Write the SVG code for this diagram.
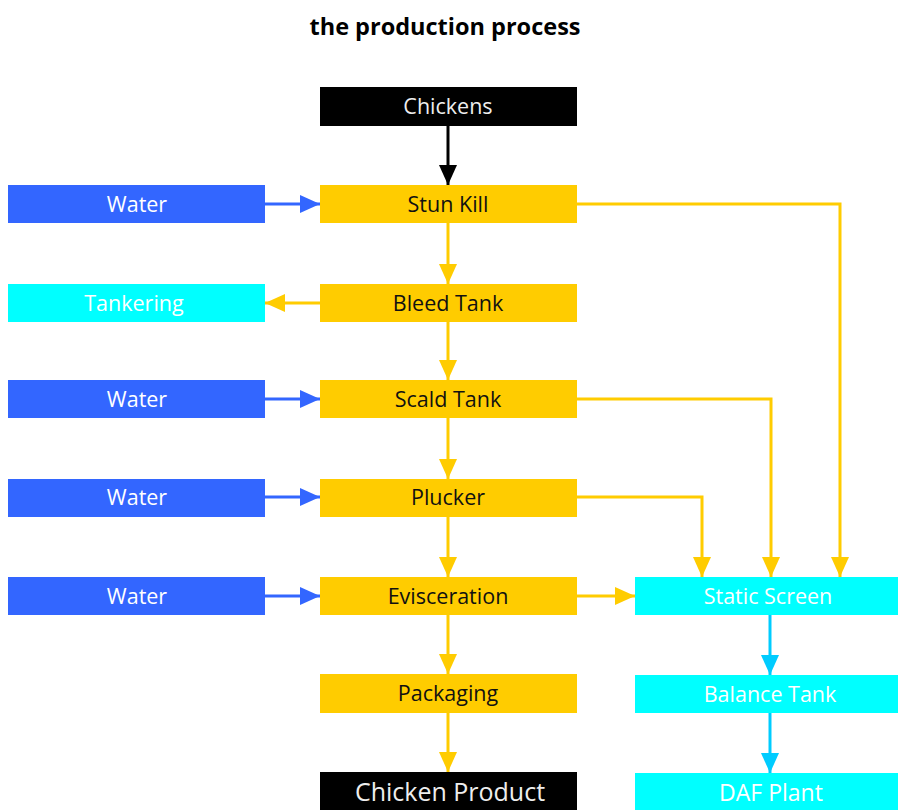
<svg xmlns="http://www.w3.org/2000/svg" width="898" height="810" viewBox="0 0 898 810">
<style>
text{font-family:"Open Sans","Noto Sans","Liberation Sans",sans-serif;text-anchor:middle;dominant-baseline:central;font-size:21.5px}
.title{font-weight:bold;font-size:23.5px;fill:#000}
.blk rect{fill:#000}.blk text{fill:#eee}
.blu rect{fill:#3366ff}.blu text{fill:#fff}
.yel rect{fill:#ffcc00}.yel text{fill:#111}
.cya rect{fill:#00ffff}.cya text{fill:#fff}
.c{fill:none;stroke-width:3}
.y{stroke:#ffcc00}.b{stroke:#3366ff}.k{stroke:#000}.s{stroke:#00ccff}
</style>
<defs>
<marker id="ay" markerUnits="userSpaceOnUse" markerWidth="20" markerHeight="20" viewBox="0 0 20 20" refX="20" refY="10" orient="auto"><path d="M0,1 L20,10 L0,19Z" fill="#ffcc00"/></marker>
<marker id="ab" markerUnits="userSpaceOnUse" markerWidth="20" markerHeight="20" viewBox="0 0 20 20" refX="20" refY="10" orient="auto"><path d="M0,1 L20,10 L0,19Z" fill="#3366ff"/></marker>
<marker id="ak" markerUnits="userSpaceOnUse" markerWidth="20" markerHeight="20" viewBox="0 0 20 20" refX="20" refY="10" orient="auto"><path d="M0,1 L20,10 L0,19Z" fill="#000"/></marker>
<marker id="as" markerUnits="userSpaceOnUse" markerWidth="20" markerHeight="20" viewBox="0 0 20 20" refX="20" refY="10" orient="auto"><path d="M0,1 L20,10 L0,19Z" fill="#00ccff"/></marker>
</defs>
<text class="title" x="445" y="26">the production process</text>
<g id="connectors">
<path class="c k" d="M448,126 V185" marker-end="url(#ak)"/>
<path class="c b" d="M265,204 H320" marker-end="url(#ab)"/>
<path class="c y" d="M448,223 V284" marker-end="url(#ay)"/>
<path class="c y" d="M320,303 H265" marker-end="url(#ay)"/>
<path class="c y" d="M448,322 V380" marker-end="url(#ay)"/>
<path class="c b" d="M265,399 H320" marker-end="url(#ab)"/>
<path class="c y" d="M448,418 V479" marker-end="url(#ay)"/>
<path class="c b" d="M265,497 H320" marker-end="url(#ab)"/>
<path class="c y" d="M448,517 V577" marker-end="url(#ay)"/>
<path class="c b" d="M265,596 H320" marker-end="url(#ab)"/>
<path class="c y" d="M448,615 V674" marker-end="url(#ay)"/>
<path class="c y" d="M448,713 V772" marker-end="url(#ay)"/>
<path class="c y" d="M577,204 H840 V577" marker-end="url(#ay)"/>
<path class="c y" d="M577,399 H771 V577" marker-end="url(#ay)"/>
<path class="c y" d="M577,497 H702 V577" marker-end="url(#ay)"/>
<path class="c y" d="M577,596 H635" marker-end="url(#ay)"/>
<path class="c s" d="M770,615 V675" marker-end="url(#as)"/>
<path class="c s" d="M770,713 V773" marker-end="url(#as)"/>
</g>
<g id="chickens" class="blk"><rect x="320" y="87" width="257" height="39"/><text x="448" y="105">Chickens</text></g>
<g id="water1" class="blu"><rect x="8" y="185" width="257" height="38"/><text x="137" y="203">Water</text></g>
<g id="stunkill" class="yel"><rect x="320" y="185" width="257" height="38"/><text x="448" y="203">Stun Kill</text></g>
<g id="tankering" class="cya"><rect x="8" y="284" width="257" height="38"/><text x="134" y="302">Tankering</text></g>
<g id="bleedtank" class="yel"><rect x="320" y="284" width="257" height="38"/><text x="448" y="302">Bleed Tank</text></g>
<g id="water2" class="blu"><rect x="8" y="380" width="257" height="38"/><text x="137" y="398">Water</text></g>
<g id="scaldtank" class="yel"><rect x="320" y="380" width="257" height="38"/><text x="448" y="398">Scald Tank</text></g>
<g id="water3" class="blu"><rect x="8" y="479" width="257" height="38"/><text x="137" y="496">Water</text></g>
<g id="plucker" class="yel"><rect x="320" y="479" width="257" height="38"/><text x="448" y="496">Plucker</text></g>
<g id="water4" class="blu"><rect x="8" y="577" width="257" height="38"/><text x="137" y="595">Water</text></g>
<g id="evisceration" class="yel"><rect x="320" y="577" width="257" height="38"/><text x="448" y="595">Evisceration</text></g>
<g id="staticscreen" class="cya"><rect x="635" y="577" width="263" height="38"/><text x="768" y="595">Static Screen</text></g>
<g id="packaging" class="yel"><rect x="320" y="674" width="257" height="39"/><text x="448" y="692">Packaging</text></g>
<g id="balancetank" class="cya"><rect x="635" y="675" width="263" height="38"/><text x="770" y="693">Balance Tank</text></g>
<g id="chickenproduct" class="blk"><rect x="320" y="772" width="257" height="40"/><text x="450" y="791" style="font-size:25px">Chicken Product</text></g>
<g id="dafplant" class="cya"><rect x="635" y="773" width="263" height="40"/><text x="771" y="792" style="font-size:23px">DAF Plant</text></g>
</svg>
